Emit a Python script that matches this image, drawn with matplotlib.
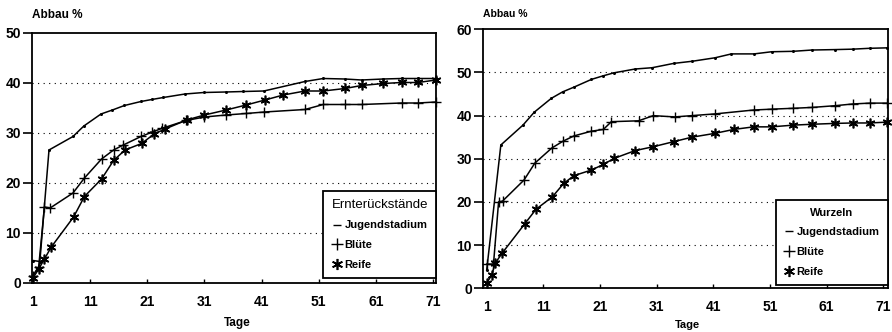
import matplotlib
matplotlib.use("Agg")
import matplotlib.pyplot as plt
from matplotlib.lines import Line2D

plt.rcParams["font.family"] = ["Liberation Sans", "DejaVu Sans"]

# ---- Ernterückstände (left panel) ----
ern_jugend_days = [1, 2.2, 3.8, 8.0, 9.9, 12.9, 14.9, 17.0, 19.9, 21.8, 23.8, 27.6,
                   30.9, 34.7, 37.8, 41.4, 48.6, 51.8, 55.6, 58.5, 62.3, 65.5, 68.4, 71.5]
ern_jugend_vals = [4.5, 4.3, 26.6, 29.3, 31.4, 33.8, 34.6, 35.5, 36.3, 36.7, 37.1, 37.8,
                   38.1, 38.2, 38.3, 38.4, 40.3, 40.9, 40.8, 40.6, 40.8, 40.9, 40.9, 40.9]

ern_bluete_days = [1, 2, 3, 4, 8, 10, 13, 15.1, 16.8, 19.9, 21.9, 23.5, 27.8,
                   31, 34.8, 38.3, 41.5, 48.6, 51.8, 55.6, 58.5, 65.5, 68.4, 71.5]
ern_bluete_vals = [1.5, 3.3, 15.2, 15.0, 18.0, 21.0, 24.8, 26.6, 27.6, 29.3, 30.2, 30.9, 32.5,
                   33.2, 33.6, 33.9, 34.2, 34.7, 35.7, 35.7, 35.7, 36.0, 36.0, 36.2]

ern_reife_days = [1, 2, 3, 4.2, 8.1, 10, 13, 15.1, 17.1, 20, 22.2, 24.1, 27.9, 31,
                  34.8, 38.3, 41.6, 44.8, 48.6, 51.8, 55.6, 58.5, 62.3, 65.5, 68.4, 71.5]
ern_reife_vals = [1.0, 2.8, 4.8, 7.2, 13.2, 17.3, 20.8, 24.5, 26.6, 27.9, 29.8, 30.8, 32.6, 33.6,
                  34.6, 35.6, 36.6, 37.6, 38.4, 38.4, 38.9, 39.5, 39.9, 40.1, 40.1, 40.6]

# ---- Wurzeln (right panel) ----
wur_jugend_days = [1, 3.5, 7.4, 9.4, 12.4, 14.4, 16.4, 19.5, 21.5, 23.4, 27.2, 30.2,
                   34.0, 37.3, 41.3, 44.2, 48.2, 51.3, 55.1, 58.4, 62.5, 65.6, 68.6, 71.6]
wur_jugend_vals = [4.2, 33.2, 37.8, 40.8, 44.0, 45.5, 46.6, 48.4, 49.2, 49.9, 50.8, 51.1,
                   52.1, 52.6, 53.4, 54.3, 54.3, 54.8, 54.9, 55.2, 55.3, 55.4, 55.6, 55.7]

wur_bluete_days = [1, 2.2, 3.1, 3.8, 7.6, 9.5, 12.5, 14.5, 16.4, 19.5, 21.6, 23.0, 27.8,
                   30.4, 34.2, 37.2, 41.3, 48.1, 51.3, 55.1, 58.4, 62.5, 65.6, 68.6, 71.6]
wur_bluete_vals = [5.6, 5.6, 20.0, 20.2, 25.1, 29.0, 32.5, 34.1, 35.3, 36.4, 36.8, 38.6, 38.8,
                   40.0, 39.7, 40.0, 40.4, 41.3, 41.5, 41.7, 41.9, 42.3, 42.7, 42.9, 42.9]

wur_reife_days = [1, 1.9, 2.5, 3.7, 7.7, 9.7, 12.6, 14.6, 16.4, 19.5, 21.6, 23.5, 27.2,
                  30.4, 34.1, 37.2, 41.3, 44.6, 48.1, 51.3, 55.1, 58.4, 62.5, 65.6, 68.6, 71.7]
wur_reife_vals = [1.2, 3.1, 5.8, 8.1, 14.9, 18.3, 21.2, 24.3, 26.1, 27.4, 28.7, 30.1, 31.9,
                  32.8, 34.0, 35.0, 35.9, 36.8, 37.4, 37.4, 37.8, 38.0, 38.2, 38.3, 38.3, 38.5]

x_ticks = [1, 11, 21, 31, 41, 51, 61, 71]
series_labels = ["Jugendstadium", "Blüte", "Reife"]

ASTERISK = (6, 2, 0)
styles = [
    dict(marker="o", ms=2.2, mew=0),
    dict(marker="+", ms=7, mew=1.0),
    dict(marker=ASTERISK, ms=7, mew=1.2),
]

fig = plt.figure(figsize=(8.92, 3.32), dpi=100)


def panel(rect, xlim, ylim, yticks, data, legend_title, legend_anchor,
          leg_title_fs, leg_title_weight):
    ax = fig.add_axes(rect)
    for (d, v), st in zip(data, styles):
        ax.plot(d, v, color="black", lw=1.1, clip_on=False, **st)
    ax.set_xlim(*xlim)
    ax.set_ylim(*ylim)
    ax.set_xticks(x_ticks)
    ax.set_yticks(yticks)
    for y in yticks[1:-1]:
        ax.axhline(y, color="black", lw=0.8, ls=(0, (1, 4)), zorder=0)
    for sp in ax.spines.values():
        sp.set_linewidth(1.3)
    ax.tick_params(axis="y", direction="out", length=6.5, width=1.2, pad=1.5,
                   labelsize=10)
    ax.tick_params(axis="x", direction="in", length=3, width=1.0, pad=8.5,
                   labelsize=10)
    for lab in ax.get_xticklabels() + ax.get_yticklabels():
        lab.set_fontweight("bold")

    handles = [
        Line2D([], [], color="black", marker="_", ms=6, mew=1.0, ls="none"),
        Line2D([], [], color="black", marker="+", ms=9, mew=1.0, ls="none"),
        Line2D([], [], color="black", marker=ASTERISK, ms=8, mew=1.2, ls="none"),
    ]
    leg = ax.legend(handles, series_labels, title=legend_title,
                    loc="lower right", bbox_to_anchor=legend_anchor,
                    frameon=True, fancybox=False, edgecolor="black",
                    framealpha=1, handlelength=0.8, handletextpad=0.3,
                    labelspacing=0.88, borderpad=0.72, borderaxespad=0,
                    prop=dict(size=8, weight="bold"),
                    title_fontproperties=dict(size=leg_title_fs,
                                              weight=leg_title_weight))
    leg.get_frame().set_linewidth(1.3)
    leg._legend_box.align = "center"
    return ax


panel([32 / 892, (332 - 283) / 332, 404 / 892, 250 / 332],
      (0.825, 71.53), (0, 50), [0, 10, 20, 30, 40, 50],
      [(ern_jugend_days, ern_jugend_vals), (ern_bluete_days, ern_bluete_vals),
       (ern_reife_days, ern_reife_vals)],
      "Ernterückstände", (1.0, 0.02), 9.5, "normal")

panel([483 / 892, (332 - 288.3) / 332, 404.7 / 892, 259 / 332],
      (0.35, 71.78), (0, 60), [0, 10, 20, 30, 40, 50, 60],
      [(wur_jugend_days, wur_jugend_vals), (wur_bluete_days, wur_bluete_vals),
       (wur_reife_days, wur_reife_vals)],
      "Wurzeln", (1.0, 0.013), 8, "bold")

fig.text(32 / 892, 1 - 15 / 332, "Abbau %", fontsize=8.5, fontweight="bold",
         ha="left", va="center")
fig.text(483 / 892, 1 - 14 / 332, "Abbau %", fontsize=7.5, fontweight="bold",
         ha="left", va="center")
fig.text(237 / 892, 1 - 323 / 332, "Tage", fontsize=8.5, fontweight="bold",
         ha="center", va="center")
fig.text(687 / 892, 1 - 325 / 332, "Tage", fontsize=8, fontweight="bold",
         ha="center", va="center")

fig.savefig("out.png", dpi=100, facecolor="white")
